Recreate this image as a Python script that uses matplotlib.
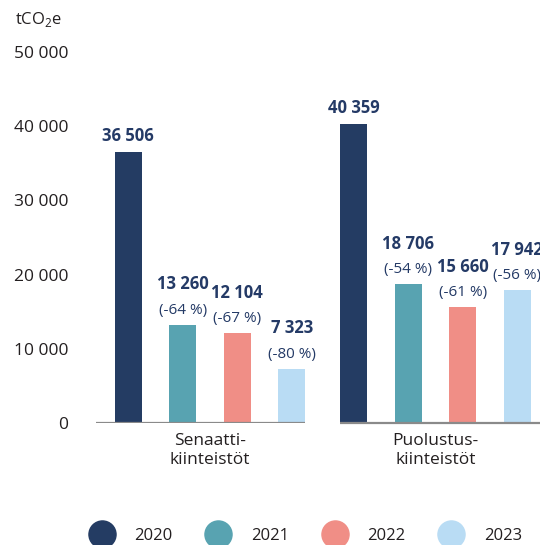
import matplotlib
matplotlib.use("Agg")
import matplotlib.pyplot as plt
from matplotlib.lines import Line2D
import numpy as np

plt.rcParams['font.family'] = ['Open Sans', 'DejaVu Sans']
plt.rcParams['mathtext.fontset'] = 'custom'
plt.rcParams['mathtext.rm'] = 'Open Sans'

# data
groups = ["Senaatti-\nkiinteistöt", "Puolustus-\nkiinteistöt"]
years = ["2020", "2021", "2022", "2023"]
senaatti = [36506, 13260, 12104, 7323]
puolustus = [40359, 18706, 15660, 17942]
senaatti_change = [None, "(-64 %)", "(-67 %)", "(-80 %)"]
puolustus_change = [None, "(-54 %)", "(-61 %)", "(-56 %)"]
yticks = [0, 10000, 20000, 30000, 40000, 50000]

colors = ["#243c63", "#58a3b1", "#f08e86", "#b9dcf4"]
label_color = "#243a66"
text_color = "#231f20"

fig = plt.figure(figsize=(5.4, 5.45), dpi=100)
ax = fig.add_axes([75 / 540, 122 / 545, 465 / 540, 371 / 545])

offsets = np.array([-1.5, -0.5, 0.5, 1.5]) * 0.2417
width = 0.12
x = np.arange(len(groups))


def fmt(v):
    return f"{v:,}".replace(",", " ")


for gi, (vals, changes) in enumerate([(senaatti, senaatti_change),
                                      (puolustus, puolustus_change)]):
    for i, (v, c) in enumerate(zip(vals, changes)):
        xpos = x[gi] + offsets[i]
        ax.bar(xpos, v, width=width, color=colors[i], zorder=2)
        if c is None:
            ax.annotate(fmt(v), (xpos, v), xytext=(0, 5),
                        textcoords="offset points", ha="center", va="bottom",
                        fontsize=12, fontweight="bold", color=label_color,
                        annotation_clip=False)
        else:
            ax.annotate(c, (xpos, v), xytext=(0, 5),
                        textcoords="offset points", ha="center", va="bottom",
                        fontsize=11, color=label_color, annotation_clip=False)
            ax.annotate(fmt(v), (xpos, v), xytext=(0, 22.5),
                        textcoords="offset points", ha="center", va="bottom",
                        fontsize=12, fontweight="bold", color=label_color,
                        annotation_clip=False)

# baseline segments under each group
ax.plot([x[0] + offsets[0] - width / 2 - 0.085, x[0] + offsets[-1] + width / 2],
        [0, 0], color="#8a8a8a", lw=1.6, zorder=3, solid_capstyle="butt")
ax.plot([x[1] + offsets[0] - width / 2, 1.5], [0, 0], color="#8a8a8a", lw=1.6,
        zorder=3, solid_capstyle="butt", clip_on=False)

ax.set_xlim(-0.599, 1.463)
ax.set_ylim(0, 50000)
ax.set_yticks(yticks)
ax.set_yticklabels([fmt(t) for t in yticks])
ax.tick_params(axis="y", length=0, pad=5, labelsize=12.5, labelcolor=text_color)
ax.set_xticks(x)
ax.set_xticklabels(groups, linespacing=1.25)
ax.tick_params(axis="x", length=0, pad=7, labelsize=12.5, labelcolor=text_color)
for s in ax.spines.values():
    s.set_visible(False)

fig.text(15 / 540, 1 - 24 / 545, r"tCO$_\mathregular{2}$e", fontsize=12,
         color=text_color, ha="left", va="baseline")

handles = [Line2D([], [], marker="o", linestyle="none", markersize=19.5,
                  markerfacecolor=c, markeredgecolor=c) for c in colors]
fig.legend(handles, years, loc="center", bbox_to_anchor=(0.566, 0.0165),
           ncol=4, frameon=False, fontsize=12, handlelength=1.5,
           handletextpad=1.2, columnspacing=2.0, borderpad=0,
           labelcolor=text_color)

fig.savefig("out.png", dpi=100)
